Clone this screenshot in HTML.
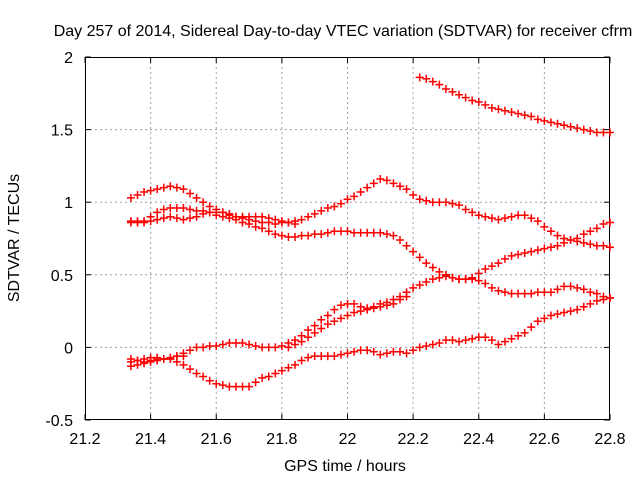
<!DOCTYPE html>
<html><head><meta charset="utf-8"><style>
body{margin:0;background:#fff}
svg text{font-family:"Liberation Sans",sans-serif;font-size:16px;fill:#000}
</style></head><body>
<svg width="640" height="480">
<g id="grid"></g>
<g id="axes"></g>
<g id="marks"></g>
<text x="343" y="36" text-anchor="middle">Day 257 of 2014, Sidereal Day-to-day VTEC variation (SDTVAR) for receiver cfrm</text>
<text x="345" y="471" text-anchor="middle">GPS time / hours</text>
<text transform="translate(19,238) rotate(-90)" text-anchor="middle">SDTVAR / TECUs</text>
</svg>
<script>
const xTicks=[21.2,21.4,21.6,21.8,22,22.2,22.4,22.6,22.8];
const yTicks=[-0.5,0,0.5,1,1.5,2];
const t0=21.34, dt=0.02;
const s1=[1.03,1.05,1.07,1.08,1.09,1.1,1.11,1.1,1.09,1.06,1.03,1.0,0.97,0.95,0.93,0.91,0.9,0.89,0.88,0.87,0.86,0.86,0.85,0.86,0.86,0.87,0.88,0.9,0.92,0.94,0.96,0.97,0.99,1.02,1.04,1.07,1.1,1.13,1.16,1.15,1.13,1.11,1.09,1.05,1.02,1.01,1.0,1.0,1.0,0.99,0.98,0.95,0.93,0.91,0.9,0.89,0.88,0.89,0.9,0.91,0.91,0.89,0.87,0.83,0.8,0.77,0.75,0.74,0.73,0.72,0.71,0.7,0.7,0.69];
const s2=[0.86,0.86,0.87,0.9,0.93,0.95,0.96,0.96,0.96,0.95,0.94,0.94,0.93,0.91,0.9,0.89,0.88,0.86,0.85,0.83,0.82,0.8,0.78,0.77,0.76,0.76,0.77,0.77,0.78,0.78,0.79,0.8,0.8,0.8,0.79,0.79,0.79,0.79,0.79,0.78,0.77,0.74,0.7,0.66,0.62,0.58,0.55,0.52,0.5,0.48,0.47,0.47,0.47,0.46,0.44,0.41,0.39,0.38,0.37,0.37,0.37,0.37,0.38,0.38,0.38,0.4,0.42,0.42,0.41,0.4,0.38,0.37,0.35,0.34];
const s3=[0.87,0.87,0.86,0.87,0.88,0.89,0.9,0.89,0.88,0.89,0.9,0.92,0.93,0.93,0.93,0.92,0.9,0.9,0.9,0.9,0.9,0.89,0.88,0.87,0.86,0.85,null,null,null,null,null,null,null,null,null,null,null,null,null,null,null,null,null,null,null,null,null,null,null,null,null,null,null,null,null,null,null,null,null,null,null,null,null,null,null,null,null,null,null,null,null,null,null,null];
const s4=[-0.1,-0.09,-0.08,-0.07,-0.07,-0.08,-0.08,-0.06,-0.04,-0.02,0.0,0.0,0.01,0.01,0.02,0.03,0.03,0.03,0.02,0.01,0.0,0.0,0.0,0.01,0.03,0.05,0.08,0.12,0.15,0.19,0.22,0.26,0.29,0.3,0.3,0.28,0.27,0.28,0.3,0.31,0.33,0.35,0.38,0.41,0.43,0.45,0.47,0.48,0.49,0.48,0.47,0.47,0.48,0.51,0.54,0.56,0.58,0.61,0.63,0.64,0.65,0.66,0.67,0.68,0.69,0.7,0.72,0.74,0.75,0.78,0.8,0.82,0.85,0.86];
const s5=[-0.08,-0.09,-0.1,-0.09,-0.08,-0.08,-0.08,-0.1,-0.12,-0.15,-0.18,-0.2,-0.23,-0.25,-0.26,-0.27,-0.27,-0.27,-0.27,-0.24,-0.21,-0.2,-0.18,-0.16,-0.14,-0.12,-0.09,-0.07,-0.06,-0.06,-0.06,-0.06,-0.05,-0.04,-0.03,-0.02,-0.02,-0.03,-0.05,-0.04,-0.03,-0.03,-0.04,-0.02,0.0,0.01,0.02,0.03,0.05,0.05,0.04,0.05,0.06,0.07,0.07,0.05,0.02,0.04,0.06,0.08,0.1,0.14,0.18,0.2,0.22,0.23,0.24,0.25,0.26,0.28,0.3,0.32,0.33,0.34];
const s6=[-0.13,-0.12,-0.11,-0.1,-0.09,-0.08,-0.07,-0.06,-0.06,null,null,null,null,null,null,null,null,null,null,null,null,null,null,null,0.0,0.02,0.04,0.07,0.1,0.13,0.16,0.18,0.2,0.22,0.24,0.25,0.26,0.27,0.28,0.29,0.3,0.33,0.35,null,null,null,null,null,null,null,null,null,null,null,null,null,null,null,null,null,null,null,null,null,null,null,null,null,null,null,null,null,null,null];
const s7=[null,null,null,null,null,null,null,null,null,null,null,null,null,null,null,null,null,null,null,null,null,null,null,null,null,null,null,null,null,null,null,null,null,null,null,null,null,null,null,null,null,null,null,null,1.86,1.85,1.83,1.81,1.78,1.76,1.74,1.72,1.7,1.69,1.67,1.65,1.64,1.63,1.62,1.61,1.6,1.59,1.57,1.56,1.55,1.54,1.53,1.52,1.51,1.5,1.49,1.48,1.48,1.48];
const L=85,R=610,T=57,B=420;
const X=v=>L+(v-21.2)/1.6*(R-L);
const Y=v=>B-(v+0.5)/2.5*(B-T);
const NS='http://www.w3.org/2000/svg';
function mk(tag,at,parent){const e=document.createElementNS(NS,tag);for(const k in at)e.setAttribute(k,at[k]);parent.appendChild(e);return e;}
const grid=document.getElementById('grid'),axes=document.getElementById('axes'),marks=document.getElementById('marks');
xTicks.forEach(t=>{const x=X(t);
 if(t>21.2&&t<22.8){const g=mk('line',{x1:x,x2:x,y1:T,y2:B,stroke:'#a0a0a0','stroke-dasharray':'2,3'},grid);
 
 }
 mk('line',{x1:x,x2:x,y1:B,y2:B-6,stroke:'#000'},axes);
 mk('line',{x1:x,x2:x,y1:T,y2:T+6,stroke:'#000'},axes);
 const tx=mk('text',{x:x,y:444,'text-anchor':'middle'},axes);tx.textContent=String(t);
 
 });
yTicks.forEach(t=>{const y=Y(t);
 if(t>-0.5&&t<2){const g=mk('line',{x1:L,x2:R,y1:y,y2:y,stroke:'#a0a0a0','stroke-dasharray':'2,3'},grid);
 
 }
 mk('line',{x1:L,x2:L+6,y1:y,y2:y,stroke:'#000'},axes);
 mk('line',{x1:R,x2:R-6,y1:y,y2:y,stroke:'#000'},axes);
 const tx=mk('text',{x:73,y:y+6,'text-anchor':'end'},axes);tx.textContent=String(t);
 
 });
const fr=mk('rect',{x:L+0.5,y:T+0.5,width:R-L-1,height:B-T-1,fill:'none',stroke:'#000'},axes);


[s1,s2,s3,s4,s5,s6,s7].forEach((s,i)=>{
 const g=mk('g',{},marks);
 
 
 s.forEach((v,j)=>{if(v===null)return;const x=X(t0+j*dt),y=Y(v);
  mk('path',{d:`M${x-4},${y}h8M${x},${y-4}v8`,stroke:'#ff0000','stroke-width':1.5},g);
 });
});
</script>
</body></html>
